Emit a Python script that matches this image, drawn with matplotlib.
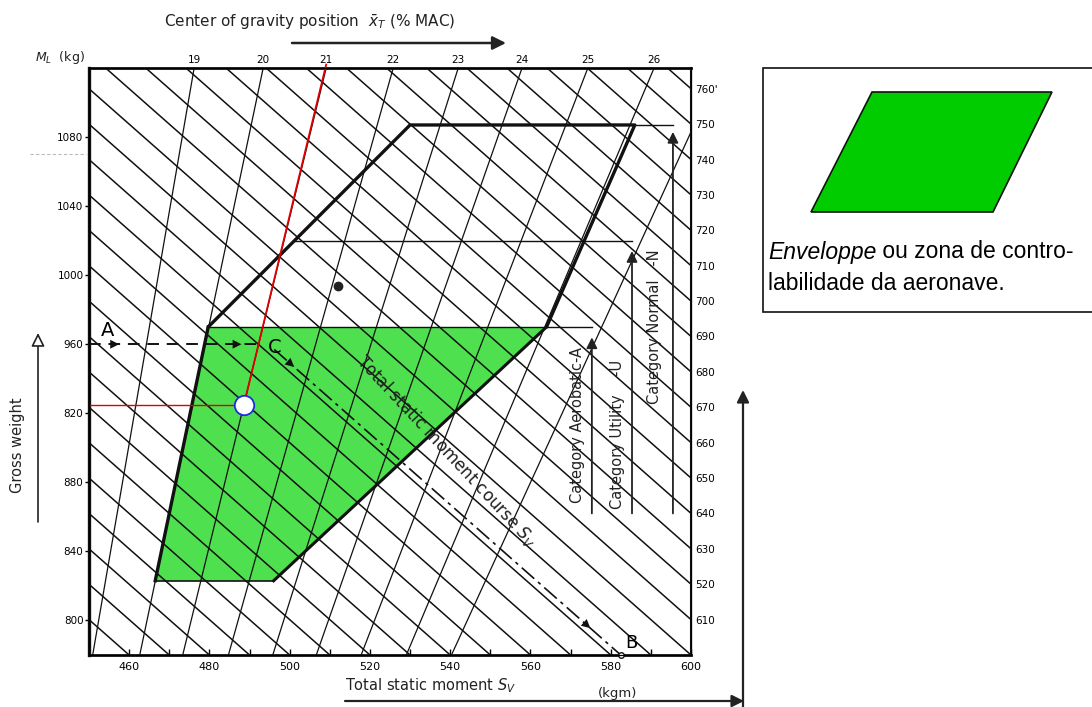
import matplotlib.pyplot as plt
from matplotlib.patches import Polygon, Rectangle

# ---- values ----
moment_ticks = [460, 480, 500, 520, 540, 560, 580, 600]          # kgm, bottom scale
weight_ticks = [1080, 1040, 1000, 960, 920, 880, 840, 800]        # kg, left scale
weight_labels = ['1080', '1040', '1000', '960', '820', '880', '840', '800']
cg_labels = ['19', '20', '21', '22', '23', '24', '25', '26']
cg_top_moment = [476.2, 493.4, 509.1, 525.8, 542.0, 557.9, 574.3, 590.8]
cg_extra_top = 607.3                      # unlabelled line beyond 26
cg_apex = (396.7, 51.0)                   # where the CG lines meet (off chart)
moment_lines = list(range(460, 770, 10))  # lines of constant static moment
right_values = list(range(610, 770, 10))
right_labels = ['610', '520', '630', '640', '650', '660', '670', '680',
                '690', '700', '710', '720', '730', '740', '750', "760'"]
moment_slope = 2.05                       # kg per kgm along a moment line
envelope_upper = [(479.7, 970), (530, 1087), (586, 1087), (564, 970)]
envelope_green = [(479.7, 970), (564, 970), (496, 823), (466.5, 823)]
w_aero, w_util, w_norm = 970, 1020, 1087
s_aero, s_util, s_norm = 575.3, 585.3, 595.5
w_cat_low = 862
point_a_w = 960
point_c = (492.3, 960)
point_b = 582.5
red_w = 925
dot = (512, 994)

W0, W1 = 780, 1120
S0, S1 = 450, 600


def moment_s(v, w):
    return v - (w - W0) / moment_slope


fig = plt.figure(figsize=(10.92, 7.07), dpi=100)
ax = fig.add_axes([89 / 1092, 52 / 707, 602 / 1092, 587 / 707])
ax.set_xlim(S0, S1)
ax.set_ylim(W0, W1)
ax.set_facecolor('none')

# green zone
ax.add_patch(Polygon(envelope_green, closed=True, fc='#4fe04f', ec='none', zorder=1))

# constant moment lines
for v in moment_lines:
    ax.plot([v, moment_s(v, W1)], [W0, W1], color='#111111', lw=1.1, zorder=2)

# CG lines (rays towards the apex)
for s_top in cg_top_moment + [cg_extra_top]:
    ax.plot([s_top, cg_apex[0]], [W1, cg_apex[1]], color='#111111', lw=0.9, zorder=2)

# envelope outline
xs = [p[0] for p in envelope_upper]
ys = [p[1] for p in envelope_upper]
ax.plot(xs, ys, color='#111111', lw=2.4, zorder=4, solid_capstyle='round')
g = envelope_green
ax.plot([g[0][0], g[3][0]], [g[0][1], g[3][1]], color='#111111', lw=2.4, zorder=4)
ax.plot([g[1][0], g[2][0]], [g[1][1], g[2][1]], color='#111111', lw=2.2, zorder=4)
ax.plot([g[3][0], g[2][0]], [g[3][1], g[2][1]], color='#111111', lw=1.2, zorder=4)

# category limits
t = (w_util - envelope_upper[0][1]) / (envelope_upper[1][1] - envelope_upper[0][1])
s_util_start = envelope_upper[0][0] + t * (envelope_upper[1][0] - envelope_upper[0][0])
ax.plot([envelope_upper[0][0], s_aero], [w_aero, w_aero], color='#111111', lw=1.0, zorder=3)
ax.plot([s_util_start, s_util], [w_util, w_util], color='#111111', lw=1.0, zorder=3)
ax.plot([envelope_upper[2][0], s_norm], [w_norm, w_norm], color='#111111', lw=1.0, zorder=3)
arrow_kw = dict(arrowstyle='-|>', color='#222222', lw=1.3, mutation_scale=16,
                shrinkA=0, shrinkB=0)
ax.annotate('', xy=(s_aero, w_aero - 6), xytext=(s_aero, w_cat_low), arrowprops=arrow_kw, zorder=5)
ax.annotate('', xy=(s_util, w_util - 6), xytext=(s_util, w_cat_low), arrowprops=arrow_kw, zorder=5)
ax.annotate('', xy=(s_norm, w_norm - 4), xytext=(s_norm, w_cat_low), arrowprops=arrow_kw, zorder=5)
ax.text(s_aero - 3.5, 913, 'Category Aerobatic-A', rotation=90, ha='center', va='center',
        fontsize=10.5, color='#222222', zorder=6)
ax.text(s_util - 3.5, 908, 'Category Utility    -U', rotation=90, ha='center', va='center',
        fontsize=10.5, color='#222222', zorder=6)
ax.text(s_norm - 4.5, 970, 'Category Normal   -N', rotation=90, ha='center', va='center',
        fontsize=10.5, color='#222222', zorder=6)

# red reading lines and the marked point
s_red = cg_top_moment[2] - (W1 - red_w) / (W1 - cg_apex[1]) * (cg_top_moment[2] - cg_apex[0])
ax.plot([cg_top_moment[2], s_red], [W1 + 2, red_w], color='#e00000', lw=1.3, zorder=5,
        clip_on=False)
ax.plot([S0, s_red], [red_w, red_w], color='#e00000', lw=1.0, zorder=5)
ax.plot([s_red], [red_w], marker='o', ms=14, mfc='white', mec='#1a2ee0', mew=1.3, zorder=6)

# A -> C (dashed) and C -> B (dash-dot course)
ax.plot([S0, point_c[0]], [point_a_w, point_a_w], color='#111111', lw=1.4,
        dashes=(6, 4), zorder=5)
for s_arr in [457.5, 488.0]:
    ax.annotate('', xy=(s_arr, point_a_w), xytext=(s_arr - 4, point_a_w),
                arrowprops=dict(arrowstyle='-|>', color='#111111', lw=0, mutation_scale=16,
                                shrinkA=0, shrinkB=0), zorder=6)
w_start = 957
ax.plot([moment_s(point_b, w_start), point_b], [w_start, W0],
        color='#111111', lw=1.2, dashes=(10, 3, 2, 3), zorder=5)
for w_arr in [946.8, 795.5]:
    s_arr = moment_s(point_b, w_arr)
    ax.annotate('', xy=(s_arr, w_arr), xytext=(s_arr - 2.5, w_arr + 2.5 * moment_slope),
                arrowprops=dict(arrowstyle='-|>', color='#111111', lw=0, mutation_scale=16,
                                shrinkA=0, shrinkB=0), zorder=6)
ax.plot([point_b], [W0], marker='o', ms=4, mfc='white', mec='#111111', mew=1, zorder=7,
        clip_on=False)
ax.plot([dot[0]], [dot[1]], marker='o', ms=6, color='#222222', zorder=6)
ax.text(453.0, 968, 'A', fontsize=14, ha='left', va='center', zorder=7)
ax.text(494.5, 958, 'C', fontsize=14, ha='left', va='center', zorder=7)
ax.text(583.5, 787, 'B', fontsize=13, ha='left', va='center', zorder=7)
ax.text(539, 898, 'Total static moment course $S_V$', rotation=-47, ha='center', va='center',
        rotation_mode='anchor', fontsize=12, color='#222222', zorder=6)

# scales
ax.set_xticks(moment_ticks)
ax.set_xticks(list(range(460, 600, 10)), minor=True)
ax.tick_params(axis='x', which='both', direction='in', length=4, width=1,
               labelsize=8, pad=5)
ax.set_yticks(weight_ticks)
ax.set_yticklabels(weight_labels)
ax.tick_params(axis='y', direction='out', length=3, width=1, labelsize=7.5, pad=1)
for side, lw in [('left', 2.4), ('bottom', 2.0), ('top', 2.0), ('right', 1.5)]:
    ax.spines[side].set_linewidth(lw)
    ax.spines[side].set_color('#111111')

axr = ax.twinx()
axr.set_ylim(W0, W1)
axr.set_yticks([W0 + moment_slope * (v - S1) for v in right_values])
axr.set_yticklabels(right_labels)
axr.tick_params(axis='y', length=0, labelsize=7.5, pad=3)

axt = ax.twiny()
axt.set_xlim(S0, S1)
axt.set_xticks(cg_top_moment)
axt.set_xticklabels(cg_labels)
axt.tick_params(axis='x', length=0, labelsize=7.5, pad=2)

# annotations around the chart, in pixel coordinates of the page
ov = fig.add_axes([0, 0, 1, 1], zorder=10)
ov.set_xlim(0, 1092)
ov.set_ylim(707, 0)
ov.axis('off')
ov.patch.set_alpha(0)

ov.text(310, 22, 'Center of gravity position  $\\bar{x}_T$ (% MAC)', ha='center',
        va='center', fontsize=11, color='#222222')
ov.annotate('', xy=(506, 43), xytext=(292, 43),
            arrowprops=dict(arrowstyle='-|>', color='#222222', lw=1.8, mutation_scale=20,
                            shrinkA=0, shrinkB=0))
ov.text(35, 58, '$M_L$  (kg)', ha='left', va='center', fontsize=9, color='#222222')
ov.plot([30, 86], [154, 154], color='#bbbbbb', lw=0.8, ls=(0, (3, 2)))
ov.text(18, 445, 'Gross weight', rotation=90, ha='center', va='center', fontsize=10.5,
        color='#222222')
ov.annotate('', xy=(38, 333), xytext=(38, 522),
            arrowprops=dict(arrowstyle='-|>', fc='white', ec='#222222', lw=1.2,
                            mutation_scale=20, shrinkA=0, shrinkB=0))
ov.text(345, 686, 'Total static moment $S_V$', ha='left', va='center', fontsize=10.5,
        color='#222222')
ov.text(598, 693, '(kgm)', ha='left', va='center', fontsize=9.5, color='#222222')
ov.annotate('', xy=(744, 701), xytext=(345, 701),
            arrowprops=dict(arrowstyle='-|>', color='#222222', lw=1.6, mutation_scale=18,
                            shrinkA=0, shrinkB=0))
ov.annotate('', xy=(743, 390), xytext=(743, 707),
            arrowprops=dict(arrowstyle='-|>', color='#222222', lw=1.6, mutation_scale=18,
                            shrinkA=0, shrinkB=0))

# legend box
ov.add_patch(Rectangle((763, 68), 340, 244, fc='white', ec='#111111', lw=1.2))
ov.add_patch(Polygon([(872, 92), (1052, 92), (993, 212), (811, 212)], closed=True,
                     fc='#00cc00', ec='#111111', lw=1.2))
t1 = ov.text(768, 252, 'Enveloppe', ha='left', va='center', fontsize=16.5, style='italic',
             family='Liberation Sans')
fig.canvas.draw()
bb = t1.get_window_extent()
x_end = ov.transData.inverted().transform((bb.x1, bb.y0))[0]
ov.text(x_end, 252, ' ou zona de contro-', ha='left', va='center', fontsize=16.5,
        family='Liberation Sans')
ov.text(768, 283, 'labilidade da aeronave.', ha='left', va='center', fontsize=16.5,
        family='Liberation Sans')

fig.savefig('out.png', dpi=100)
